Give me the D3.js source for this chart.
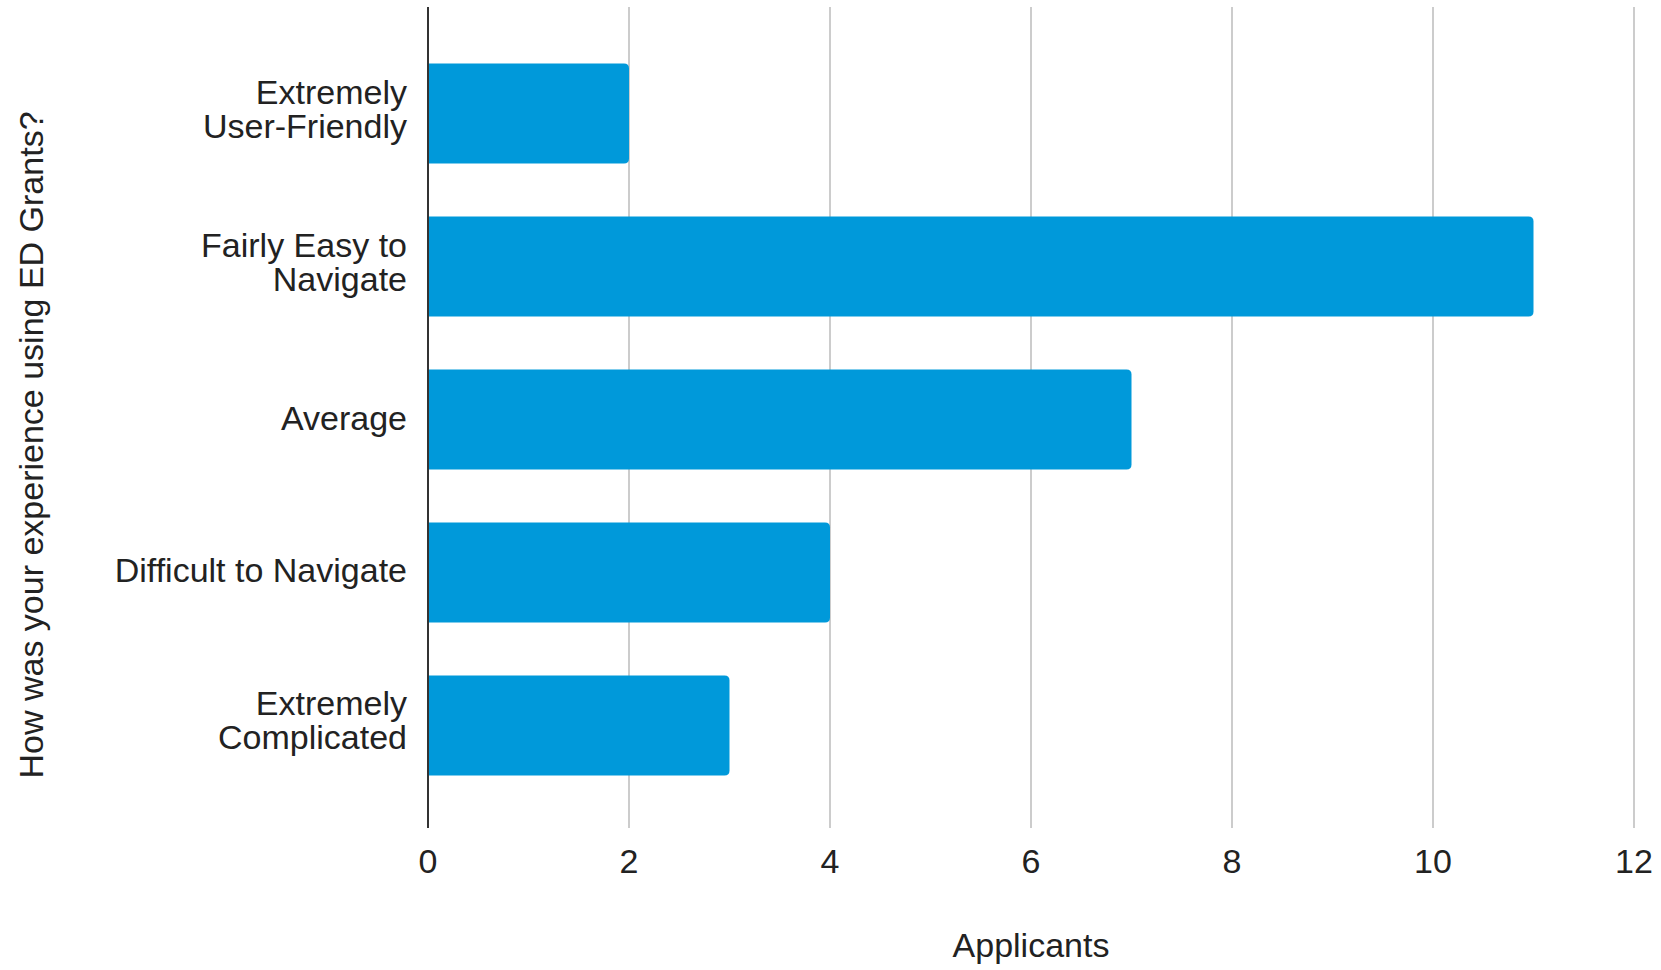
<!DOCTYPE html>
<html>
<head>
<meta charset="utf-8">
<script src="https://cdn.jsdelivr.net/npm/d3@7"></script>
<style>
  body { margin: 0; background: #fff; }
  text { font-family: "Liberation Sans", Arial, sans-serif; fill: #222; }
</style>
</head>
<body>
<div id="plot_div"></div>
<script>
const width  = 1661;
const height = 970;
var margin = {top: 7, right: 27, bottom: 142, left: 428}

// data
const categories = [["Extremely", "User-Friendly"],
                    ["Fairly Easy to", "Navigate"],
                    ["Average"],
                    ["Difficult to Navigate"],
                    ["Extremely", "Complicated"]]
const applicants = [2, 11, 7, 4, 3]
const x_ticks    = [0, 2, 4, 6, 8, 10, 12]

const font_size = 34
const bar_color = "#0099da"

const svg = d3.create("svg")
      .attr("width", width)
      .attr("height", height)
      .attr("viewBox", [0, 0, width, height])

const x = d3.scaleLinear()
      .domain([0, 12])
      .range([margin.left, width - margin.right]);

const y = d3.scaleBand()
      .domain(d3.range(categories.length))
      .range([margin.top + 3, height - margin.bottom + 1])
      .paddingInner(0.346)
      .paddingOuter(0.35);

// grid lines
svg.append("g")
    .selectAll("line")
    .data(x_ticks.slice(1))
    .join("line")
    .attr("x1", d => x(d))
    .attr("x2", d => x(d))
    .attr("y1", margin.top)
    .attr("y2", height - margin.bottom)
    .attr("stroke", "#cccccc")
    .attr("stroke-width", 2);

// tick labels
svg.append("g")
    .selectAll("text")
    .data(x_ticks)
    .join("text")
    .attr("x", d => x(d))
    .attr("y", 873)
    .attr("text-anchor", "middle")
    .style("font-size", font_size + "px")
    .text(d => d);

// bars, rounded on the right end only
function bar_path(d, i){
    const x0 = x(0), x1 = x(d), y0 = y(i), h = y.bandwidth(), r = 5
    return `M${x0},${y0} H${x1 - r} Q${x1},${y0} ${x1},${y0 + r}` +
           ` V${y0 + h - r} Q${x1},${y0 + h} ${x1 - r},${y0 + h} H${x0} Z`
}

svg.append("g")
    .selectAll("path")
    .data(applicants)
    .join("path")
    .attr("d", bar_path)
    .attr("fill", bar_color);

// baseline axis
svg.append("line")
    .attr("x1", x(0))
    .attr("x2", x(0))
    .attr("y1", margin.top)
    .attr("y2", height - margin.bottom)
    .attr("stroke", "#333333")
    .attr("stroke-width", 2);

// category labels
const line_h = 34
const labels = svg.append("g")
    .selectAll("text")
    .data(categories)
    .join("text")
    .attr("text-anchor", "end")
    .style("font-size", font_size + "px")
    .attr("transform", (d, i) => `translate(${x(0) - 21},${y(i) + y.bandwidth() / 2 + 10})`);

labels.selectAll("tspan")
    .data(d => d.map((t, j) => ({t: t, dy: (j - (d.length - 1) / 2) * line_h})))
    .join("tspan")
    .attr("x", 0)
    .attr("y", d => d.dy - 3 * (d.dy != 0))
    .text(d => d.t);

// axis titles
svg.append("text")
    .attr("x", (x(0) + x(12)) / 2)
    .attr("y", 957)
    .attr("text-anchor", "middle")
    .style("font-size", font_size + "px")
    .text("Applicants");

svg.append("text")
    .attr("transform", "translate(43,445) rotate(-90)")
    .attr("text-anchor", "middle")
    .style("font-size", font_size + "px")
    .text("How was your experience using ED Grants?");

plot_div.append(svg.node());
</script>
</body>
</html>
